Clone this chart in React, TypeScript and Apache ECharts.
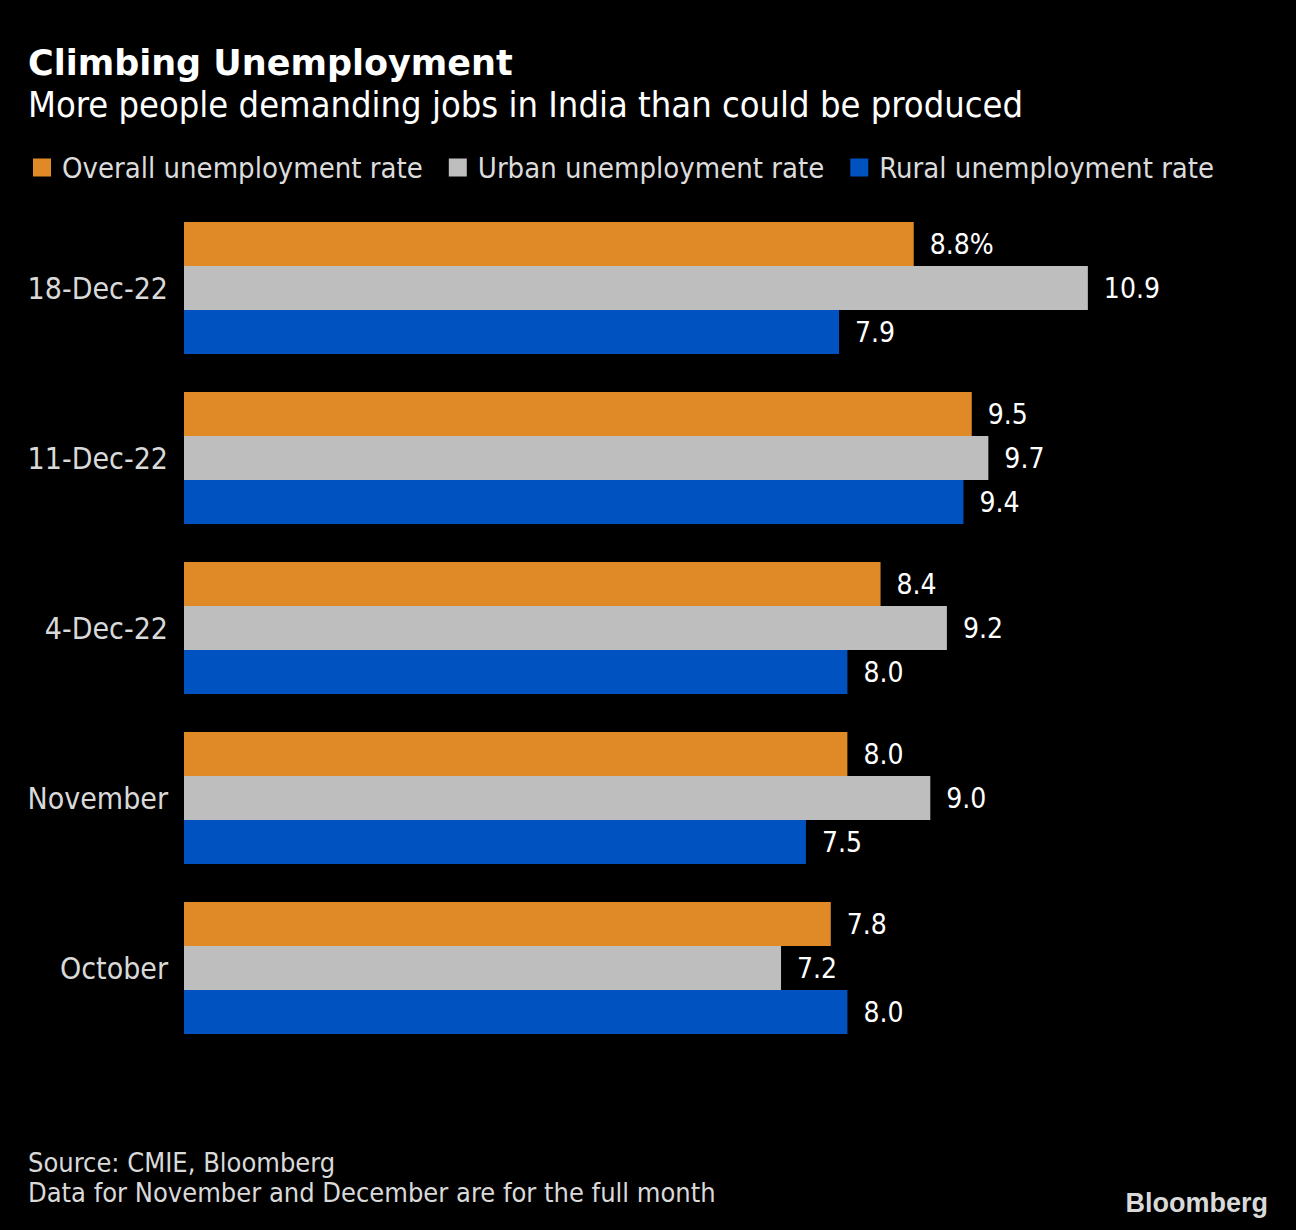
import React, { useEffect, useRef } from 'react';
import * as echarts from 'echarts';

const categories = ['18-Dec-22', '11-Dec-22', '4-Dec-22', 'November', 'October'];
const overall = [8.8, 9.5, 8.4, 8.0, 7.8];
const urban = [10.9, 9.7, 9.2, 9.0, 7.2];
const rural = [7.9, 9.4, 8.0, 7.5, 8.0];
const seriesNames = ['Overall unemployment rate', 'Urban unemployment rate', 'Rural unemployment rate'];
const colors = ['#DF8A26', '#BEBEBE', '#0052C0'];
const titleText = 'Climbing Unemployment';
const subtitleText = 'More people demanding jobs in India than could be produced';
const footer1 = 'Source: CMIE, Bloomberg';
const footer2 = 'Data for November and December are for the full month';

const FONT = '"DejaVu Sans Condensed", "DejaVu Sans", sans-serif';

export default function App() {
  const ref = useRef<HTMLDivElement>(null);
  useEffect(() => {
    document.body.style.margin = '0';
    document.body.style.background = '#000';
    const chart = echarts.init(ref.current!, null, { renderer: 'svg' });
    const allData = [overall, urban, rural];
    chart.setOption({
      animation: false,
      backgroundColor: '#000000',
      textStyle: { fontFamily: FONT },
      legend: {
        left: 28,
        top: 148,
        icon: 'rect',
        itemWidth: 18,
        itemHeight: 18,
        itemGap: 26,
        textStyle: { color: '#dcdcdc', fontSize: 29, fontFamily: FONT, padding: [0, 0, 0, 6] },
        data: seriesNames,
      },
      grid: { left: 184, top: 203, width: 1078, height: 850, containLabel: false },
      xAxis: { type: 'value', min: 0, max: 13, show: false },
      yAxis: {
        type: 'category',
        inverse: true,
        data: categories,
        axisLine: { show: false },
        axisTick: { show: false },
        axisLabel: { color: '#d9d9d9', fontSize: 30, margin: 16, fontFamily: FONT, padding: [0, 0, 8, 0] },
      },
      series: seriesNames.map((name, i) => ({
        name,
        type: 'bar',
        data: allData[i],
        barWidth: 44,
        barGap: '0%',
        itemStyle: { color: colors[i] },
        label: {
          show: true,
          position: 'right',
          distance: 16,
          color: '#ffffff',
          fontSize: 28,
          fontFamily: FONT,
          padding: [0, 0, 8, 0],
          formatter: (p: any) => p.value.toFixed(1) + (i === 0 && p.dataIndex === 0 ? '%' : ''),
        },
      })),
      graphic: [
        { type: 'text', left: 28, top: 45, style: { text: titleText, fill: '#ffffff', font: `bold 35px "DejaVu Sans", sans-serif` } },
        { type: 'text', left: 28, top: 86, style: { text: subtitleText, fill: '#ffffff', font: `36px ${FONT}` } },
        { type: 'text', left: 28, top: 1149, style: { text: footer1, fill: '#d9d9d9', font: `27px ${FONT}` } },
        { type: 'text', left: 28, top: 1179, style: { text: footer2, fill: '#d9d9d9', font: `27px ${FONT}` } },
        { type: 'text', right: 28, top: 1189, style: { text: 'Bloomberg', fill: '#d9d9d9', font: `bold 27px "Liberation Sans", Arial, sans-serif` } },
      ],
    });
    return () => chart.dispose();
  }, []);
  return <div ref={ref} style={{ width: 1296, height: 1230, background: '#000' }} />;
}
